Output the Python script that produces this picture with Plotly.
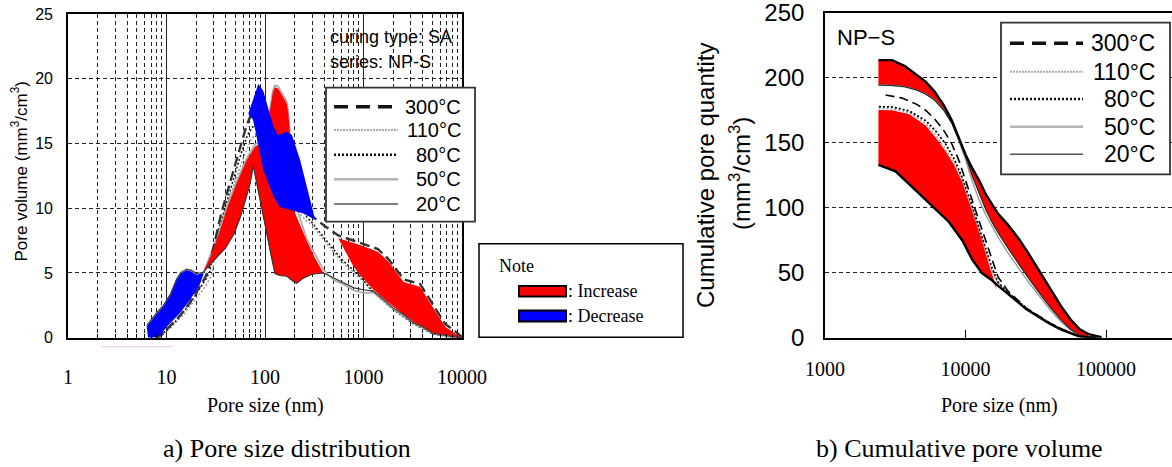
import plotly.graph_objects as go

W, H = 1172, 467
def px(x): return x / W
def py(y): return 1 - y / H

# ---------------- Left chart: pore size distribution ----------------
c20_x = [6.3, 7, 8, 9.3, 11, 12.7, 14, 16, 18, 20.3, 23.6, 27, 33, 40, 48, 56, 64, 71, 76, 117, 126, 140, 167, 190, 210, 245, 300, 392, 500, 650, 800, 1000, 1256, 1600, 2000, 2600, 3200, 4000, 5100, 7000, 10000]
c20_y = [0.95, 1.4, 1.95, 2.5, 3.4, 4.55, 5.05, 5.3, 5.2, 4.95, 5.05, 5.55, 6.25, 6.95, 7.95, 9.25, 10.75, 11.95, 13.25, 5.95, 4.95, 4.8, 4.75, 4.4, 4.2, 4.6, 4.9, 5.0, 4.6, 4.2, 3.85, 3.7, 3.6, 2.95, 2.3, 1.75, 1.15, 0.85, 0.35, 0.15, 0.0]

c50_x = [6.3, 7, 8, 9.3, 11, 12.7, 14, 16, 18, 20.3, 23.6, 28, 34, 42, 52, 65, 79, 92.5, 105, 112, 120, 126, 136, 154, 165, 172, 179, 200, 265, 330, 392, 500, 650, 800, 1000, 1256, 1600, 2000, 3200, 5100, 7000, 10000]
c50_y = [0.85, 1.3, 1.85, 2.4, 3.3, 4.45, 4.95, 5.2, 5.1, 4.85, 5.0, 6.45, 8.15, 10.35, 12.15, 13.85, 14.9, 15.25, 16.35, 17.6, 19.05, 19.5, 19.4, 18.7, 18.3, 17.6, 15.9, 10.5, 7.65, 6.35, 5.25, 4.45, 4.05, 3.65, 3.45, 3.5, 2.85, 2.25, 1.15, 0.35, 0.12, 0.0]

c80_x = [8.0, 10, 13, 16, 19, 22, 25, 27.5, 31, 37, 46, 56, 66, 75, 82, 90, 100, 130, 165, 200, 265, 300, 400, 600, 920, 1256, 2000, 3200, 5100, 8000, 10000]
c80_y = [0.0, 0.55, 1.45, 2.3, 3.1, 3.8, 4.5, 5.1, 7.3, 9.35, 11.9, 14.0, 15.6, 16.3, 16.3, 15.6, 14.5, 14.0, 16.4, 14.0, 9.3, 8.9, 7.7, 6.05, 4.75, 3.55, 2.2, 1.1, 0.3, 0.05, 0.0]

c110_x = [8.0, 10.8, 15, 20, 25, 29, 33, 40, 50, 60, 72, 80, 90, 100, 122, 150, 200, 265, 300, 400, 600, 920, 1256, 2000, 3200, 5100, 8000, 10000]
c110_y = [0.0, 0.7, 1.8, 3.0, 4.0, 4.9, 7.9, 9.9, 12.2, 13.8, 15.3, 15.7, 15.1, 13.6, 11.6, 10.5, 10.0, 9.0, 8.7, 7.5, 5.85, 4.6, 3.5, 2.15, 1.05, 0.25, 0.03, 0.0]

c300_x = [7.6, 8.6, 10.1, 13.7, 17.3, 21.8, 24.5, 26.5, 30, 36, 45, 55, 65, 72, 76, 85.5, 96, 122, 141, 245, 323, 400, 555, 920, 1400, 1800, 2560, 3750, 5000, 6760, 8500, 10000]
c300_y = [0.0, 0.1, 0.65, 1.7, 2.7, 3.9, 4.6, 5.2, 7.0, 9.6, 12.2, 14.6, 16.4, 17.2, 17.2, 15.4, 13.3, 11.2, 10.4, 9.9, 9.2, 8.65, 7.9, 7.35, 6.85, 6.05, 4.5, 4.15, 2.6, 1.05, 0.5, 0.05]

# filled change regions (boundaries)
blue1_up_x = [6.3, 7.0, 8.0, 9.3, 11.0, 12.7, 14.0, 16.0, 18.0, 20.3, 23.6]
blue1_up_y = [0.85, 1.3, 1.85, 2.4, 3.3, 4.45, 4.95, 5.2, 5.1, 4.85, 5.0]
blue1_lo_x = [6.5, 7.2, 8.6, 10.1, 13.7, 17.3, 21.8, 23.6]
blue1_lo_y = [0.0, 0.0, 0.15, 0.85, 1.9, 2.9, 4.1, 4.85]

redm_up_x = [23.6, 28, 34, 42, 52, 65, 79, 92.5, 105, 112, 120, 126, 136, 154, 165, 172, 179, 195, 265, 320, 392]
redm_up_y = [5.05, 6.3, 8.0, 10.2, 12.0, 13.7, 14.75, 15.1, 16.2, 17.45, 18.9, 19.35, 19.25, 18.55, 18.15, 17.45, 15.75, 9.9, 7.5, 6.2, 5.1]
redm_lo_x = [23.6, 27, 33, 40, 48, 56, 64, 71, 76, 117, 126, 140, 167, 190, 210, 245, 300, 392]
redm_lo_y = [5.05, 5.55, 6.25, 6.95, 7.95, 9.25, 10.75, 11.95, 13.25, 5.95, 4.95, 4.8, 4.75, 4.4, 4.2, 4.6, 4.9, 5.0]

blue2_up_x = [67.7, 85.5, 95.8, 121.9, 136.5, 166.9, 187.8, 227.6, 323]
blue2_up_y = [17.3, 19.6, 19.1, 16.3, 15.65, 15.9, 15.65, 13.7, 9.1]
blue2_lo_x = [67.7, 76.2, 85.5, 96, 122, 141, 245, 323]
blue2_lo_y = [17.3, 16.8, 15.0, 12.95, 10.9, 10.1, 9.6, 9.1]

redb_up_x = [555, 920, 1400, 1800, 2560, 3750, 6760, 9900]
redb_up_y = [7.68, 7.16, 6.64, 5.87, 4.3, 3.94, 0.85, 0.0]
redb_lo_x = [555, 790, 920, 1256, 2000, 3200, 5100, 9900]
redb_lo_y = [7.68, 5.5, 4.84, 3.7, 2.4, 1.24, 0.34, 0.0]

# ---------------- Right chart: cumulative pore volume ----------------
r_x = [2400, 3000, 3700, 4500, 5200, 6000, 7000, 8000, 9000, 10000, 11200, 12500, 14000, 15500, 17000, 20000, 24000, 28000, 33000, 40000, 48000, 56000, 65000, 75000, 85000, 93000]
r_top_y = [213.5, 213.5, 209, 202.5, 197, 189.5, 179, 167, 153, 141, 130, 121, 110, 102, 95.5, 87, 76, 65, 52.5, 37.5, 24, 14, 6.5, 2.8, 1.5, 0.5]
r20_y = [194.4, 194, 193, 190.5, 187.5, 183, 175, 165, 152, 139.5, 124, 111, 98, 88.5, 81, 69, 56, 46, 35.5, 23.5, 13.5, 6.5, 2.0, 0.5, 0.1, 0.0]
r50_y = [194.4, 194, 193, 190.5, 187.5, 183, 175, 165, 151, 137, 120, 106, 94, 85, 77.5, 65.5, 53, 43, 33, 21.5, 12, 5.8, 1.8, 0.4, 0.0, 0.0]

r300_x = [2700, 3500, 4500, 5200, 6000, 7000, 8000, 9000, 10000, 11200, 12500, 14000, 15500, 17000, 20000, 22700, 27000, 33200, 40000, 48500, 56000, 64200, 75000, 85000]
r300_y = [186.7, 184.5, 179.5, 175, 168.5, 159.5, 149, 136, 121, 105, 90, 74, 59, 47, 36, 30.5, 23, 16.8, 11.2, 6.7, 3.7, 1.4, 0.4, 0.0]

r80_x = [2420, 3000, 3960, 5210, 6130, 7220, 8260, 9470, 11170, 13140, 14670, 15500, 17000, 20000, 22700, 27000, 33200, 40000, 48500, 56000, 64200, 75000, 85000]
r80_y = [177.7, 177.5, 174.5, 167, 159, 149, 138, 123, 101, 78, 61, 53, 43, 34.5, 30, 22.5, 16.4, 11, 6.4, 3.5, 1.3, 0.35, 0.0]

r110_x = [2400, 3000, 3960, 5210, 6130, 7220, 8260, 9470, 11170, 13140, 14670, 15500, 17000, 20000, 27000, 33200, 40000, 48500, 64200, 85000]
r110_y = [176.3, 176, 173.3, 164.8, 155.8, 145, 135, 121.5, 99, 76, 58, 50, 42, 34, 22.3, 16.2, 10.8, 6.2, 1.2, 0.0]

r_low_x = [2400, 3180, 4660, 6450, 7620, 9470, 11170, 13140, 15500, 17000, 20000, 22700, 27000, 33200, 40000, 48500, 56000, 64200, 75000, 85000]
r_low_y = [133, 128, 111, 96, 89, 75, 60, 49.5, 44, 40, 34, 29, 22, 16, 10.5, 6, 3.2, 1.0, 0.3, 0.0]

rband_up_x = [2400, 3000, 3960, 5210, 6130, 7220, 8260, 9470, 11170, 13140, 14670, 15500, 16800]
rband_up_y = [175.2, 175, 172, 163.2, 154, 143.5, 133.5, 120, 97.5, 74.5, 56.5, 48.5, 36.7]

RED = "#ff0000"
BLUE = "#0000ff"

fig = go.Figure()

def line(x, y, color, width, dash="solid", xa="x", ya="y"):
    fig.add_trace(go.Scatter(x=x, y=y, mode="lines", xaxis=xa, yaxis=ya,
                             line=dict(color=color, width=width, dash=dash),
                             hoverinfo="skip", showlegend=False))

def band(ux, uy, lx, ly, color, xa="x", ya="y"):
    fig.add_trace(go.Scatter(x=list(ux) + list(lx)[::-1], y=list(uy) + list(ly)[::-1],
                             mode="lines", fill="toself", fillcolor=color,
                             line=dict(width=0, color=color), xaxis=xa, yaxis=ya,
                             hoverinfo="skip", showlegend=False))

# left: curves under the change regions
line(c110_x, c110_y, "#9a9a9a", 1.5, "2px,2px")
line(c80_x, c80_y, "#111111", 1.5, "2px,2px")
line(c50_x, c50_y, "#a8a8a8", 1.6)
line(c300_x, c300_y, "#333333", 2.4, "10px,5px")
band(redm_up_x, redm_up_y, redm_lo_x, redm_lo_y, RED)
band(redb_up_x, redb_up_y, redb_lo_x, redb_lo_y, RED)
band(blue1_up_x, blue1_up_y, blue1_lo_x, blue1_lo_y, BLUE)
band(blue2_up_x, blue2_up_y, blue2_lo_x, blue2_lo_y, BLUE)
line(c20_x, c20_y, "#333333", 1.1)

# right
band(r_x[:10], r_top_y[:10], r_x[:10], r20_y[:10], RED, "x2", "y2")
band(r_x[9:24], r_top_y[9:24], r_x[9:24], r20_y[9:24], RED, "x2", "y2")
band(rband_up_x, rband_up_y, r_low_x[:9], r_low_y[:9], RED, "x2", "y2")
line(r110_x, r110_y, "#a0a0a0", 1.5, "2px,2px", "x2", "y2")
line(r80_x, r80_y, "#000000", 1.8, "2px,2px", "x2", "y2")
line(r300_x, r300_y, "#000000", 1.6, "9px,5px", "x2", "y2")
line(r_x, r50_y, "#9a9a9a", 1.4, "solid", "x2", "y2")
line(r_x, r20_y, "#222222", 1.1, "solid", "x2", "y2")
line(r_low_x, r_low_y, "#000000", 2.4, "solid", "x2", "y2")
line(r_x, r_top_y, "#000000", 2.4, "solid", "x2", "y2")

SANS = "Liberation Sans Narrow, Liberation Sans, Arial, sans-serif"
ARIAL = "Liberation Sans, Arial, sans-serif"
SERIF = "Liberation Serif, Times New Roman, serif"

minor_vals = [m * 10 ** d for d in range(4) for m in range(2, 10)]

fig.update_layout(
    width=W, height=H, margin=dict(l=0, r=0, t=0, b=0, autoexpand=False),
    paper_bgcolor="white", plot_bgcolor="white", showlegend=False,
    xaxis=dict(type="log", range=[0, 4], domain=[px(68), px(462)], anchor="y", automargin=False,
               showline=True, linecolor="black", linewidth=1.6, mirror=True,
               tickvals=[1, 10, 100, 1000, 10000], ticktext=["1", "10", "100", "1000", "10000"],
               ticks="", showgrid=True, gridcolor="#222", gridwidth=1,
               minor=dict(tickvals=minor_vals, showgrid=True, gridcolor="#222", gridwidth=1,
                          griddash="4px,3px", ticks="inside", ticklen=4, tickcolor="black"),
               tickfont=dict(family=SERIF, size=20, color="black"), ticklabeloverflow="allow",
               ticklabelstandoff=20, zeroline=False),
    yaxis=dict(range=[0, 25], domain=[py(337.7), py(14)], anchor="x", automargin=False,
               showline=True, linecolor="black", linewidth=1.6, mirror=True,
               tickvals=[0, 5, 10, 15, 20, 25], ticks="", showgrid=True,
               gridcolor="#222", gridwidth=1, griddash="4px,3px", zeroline=False,
               ticklabeloverflow="allow",
               tickfont=dict(family=ARIAL, size=16, color="black"), ticklabelstandoff=10),
    xaxis2=dict(type="log", range=[3, 3 + (W - 825) / 140.5], domain=[px(825), 1], anchor="y2",
                automargin=False,
                showline=True, linecolor="black", linewidth=1.6, mirror=True,
                tickvals=[1000, 10000, 100000], ticktext=["1000", "10000", "100000"],
                ticks="inside", ticklen=8, tickcolor="black", showgrid=False, zeroline=False,
                ticklabeloverflow="allow",
                tickfont=dict(family=SERIF, size=20, color="black"), ticklabelstandoff=12),
    yaxis2=dict(range=[0, 250], domain=[py(337.7), py(12.7)], anchor="x2", automargin=False,
                showline=True, linecolor="black", linewidth=1.6, mirror=False,
                tickvals=[0, 50, 100, 150, 200, 250], ticks="", showgrid=True,
                gridcolor="#222", gridwidth=1, griddash="4px,3px", zeroline=False,
                ticklabeloverflow="allow",
                tickfont=dict(family=SANS, size=24, color="black"), ticklabelstandoff=14),
)

shapes = []
ann = []

def rect(x0, y0, x1, y1, lc="black", lw=1.5, fc="white"):
    shapes.append(dict(type="rect", xref="paper", yref="paper", x0=px(x0), x1=px(x1),
                       y0=py(y1), y1=py(y0), line=dict(color=lc, width=lw), fillcolor=fc, layer="above"))

def hline(x0, x1, y, color, width, dash="solid"):
    shapes.append(dict(type="line", xref="paper", yref="paper", x0=px(x0), x1=px(x1),
                       y0=py(y), y1=py(y), line=dict(color=color, width=width, dash=dash), layer="above"))

def text(x, y, s, size, family=ARIAL, xanchor="left", angle=0):
    ann.append(dict(xref="paper", yref="paper", x=px(x), y=py(y), text=s, showarrow=False,
                    xanchor=xanchor, yanchor="middle", textangle=angle,
                    font=dict(family=family, size=size, color="black")))

legend_labels = ["300°C", "110°C", "80°C", "50°C", "20°C"]
legend_styles = [("#111111", 3.5, "14px,8px"), ("#aaaaaa", 2, "2px,1px"), ("#111111", 2.5, "2px,2px"),
                 ("#b4b4b4", 2.5, "solid"), ("#555555", 1.6, "solid")]

# left legend
rect(326, 87.7, 475, 221.7, lc="#333", lw=1.8)
for yy, lab, (c, w, d) in zip([106.7, 130, 154.7, 179.3, 204], legend_labels, legend_styles):
    hline(334, 398, yy, c, w, d)
    text(463, yy, lab, 20, xanchor="right")

# right legend
rect(1001, 22.7, 1170, 174.3, lc="#333", lw=1.8)
for yy, lab, (c, w, d) in zip([43.3, 71.7, 99, 126.7, 154.3], legend_labels, legend_styles):
    hline(1010, 1083, yy, c, w, d)
    text(1157, yy, lab, 23, xanchor="right")

# note box
rect(479, 243.7, 683, 337.3, lc="black", lw=1.5)
text(497, 266, "Note", 18, SERIF)
rect(519, 286, 566, 296.5, lc="black", lw=2, fc=RED)
rect(519, 310.5, 566, 321.5, lc="black", lw=2, fc=BLUE)
text(566, 291, ": Increase", 18, SERIF)
text(566, 315.5, ": Decrease", 18, SERIF)

# pink artifact line under axis
hline(101.7, 173, 346.7, "#f2c4ee", 1)

# texts
text(328, 36.7, "curing type: SA", 18)
text(328, 61.7, "series: NP-S", 18)
text(835, 37.3, "NP\u2212S", 22)
text(265, 405, "Pore size (nm)", 20, SERIF, "center")
text(999, 405, "Pore size (nm)", 20, SERIF, "center")
text(19.5, 172, "Pore volume (mm<sup>3</sup>/cm<sup>3</sup>)", 17, ARIAL, "center", -90)
text(706, 176, "Cumulative pore quantity", 24, SANS, "center", -90)
text(740, 174, "(mm<sup>3</sup>/cm<sup>3</sup>)", 24, SANS, "center", -90)
text(287, 448, "a) Pore size distribution", 26, SERIF, "center")
text(959, 448, "b) Cumulative pore volume", 26, SERIF, "center")

fig.update_layout(shapes=shapes, annotations=ann)
fig.write_html("out.html")
